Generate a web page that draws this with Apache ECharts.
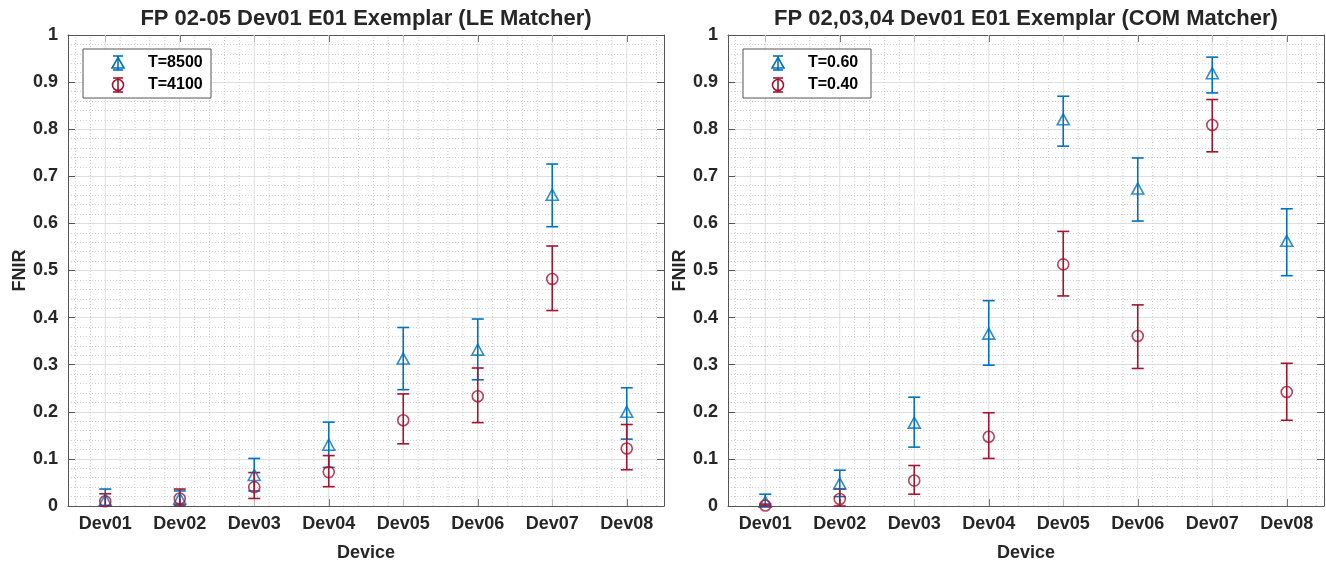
<!DOCTYPE html>
<html>
<head>
<meta charset="utf-8">
<script src="https://cdn.jsdelivr.net/npm/echarts@6/dist/echarts.min.js"></script>
<style>
  html, body { margin: 0; padding: 0; background: #ffffff; }
  #chart { width: 1326px; height: 563px; }
</style>
</head>
<body>
<div id="chart"></div>
<script>
// ---- data ----------------------------------------------------------------
const devices = ['Dev01', 'Dev02', 'Dev03', 'Dev04', 'Dev05', 'Dev06', 'Dev07', 'Dev08'];
const yTicks = [0, 0.1, 0.2, 0.3, 0.4, 0.5, 0.6, 0.7, 0.8, 0.9, 1];

// LE matcher, FP 02-05
const leT8500    = [0.013, 0.016, 0.066, 0.130, 0.313, 0.332, 0.661, 0.200];
const leT8500Lo  = [0.000, 0.003, 0.032, 0.082, 0.247, 0.268, 0.593, 0.142];
const leT8500Hi  = [0.036, 0.032, 0.101, 0.178, 0.379, 0.397, 0.726, 0.251];
const leT4100    = [0.010, 0.016, 0.040, 0.072, 0.182, 0.233, 0.482, 0.122];
const leT4100Lo  = [0.000, 0.000, 0.016, 0.041, 0.132, 0.177, 0.415, 0.077];
const leT4100Hi  = [0.026, 0.036, 0.071, 0.107, 0.238, 0.293, 0.552, 0.173];

// COM matcher, FP 02,03,04
const comT060    = [0.009, 0.048, 0.177, 0.366, 0.821, 0.674, 0.919, 0.563];
const comT060Lo  = [0.000, 0.020, 0.125, 0.299, 0.764, 0.605, 0.877, 0.489];
const comT060Hi  = [0.025, 0.076, 0.231, 0.436, 0.870, 0.739, 0.953, 0.631];
const comT040    = [0.001, 0.015, 0.054, 0.147, 0.513, 0.361, 0.809, 0.242];
const comT040Lo  = [0.000, 0.000, 0.025, 0.101, 0.446, 0.292, 0.752, 0.182];
const comT040Hi  = [0.004, 0.036, 0.086, 0.198, 0.583, 0.427, 0.863, 0.303];

// ---- styling ---------------------------------------------------------------
const FONT = '"Liberation Sans", Arial, Helvetica, sans-serif';
const BLUE = '#0072BD';
const RED = '#A2142F';
const AXIS = '#555555';
const TEXT = '#262626';
const GRID_MAJOR = '#dedede';
const GRID_MINOR = '#cfcfcf';
const LW = 1.6;

const xs = devices.map((_, i) => i + 1);

// vertical grid positions: devices (major) and fifths between them (minor)
const xGrid = [];
for (let k = 3; k <= 42; k++) {
  const v = +(k * 0.2).toFixed(2);
  xGrid.push([v, k % 5 === 0 ? 1 : 0]);
}

const panels = [
  { left: 68, title: 'FP 02-05 Dev01 E01 Exemplar (LE Matcher)',
    series: [
      { name: 'T=8500', color: BLUE, symbol: 'triangle', v: leT8500, lo: leT8500Lo, hi: leT8500Hi },
      { name: 'T=4100', color: RED, symbol: 'circle', v: leT4100, lo: leT4100Lo, hi: leT4100Hi }
    ] },
  { left: 728, title: 'FP 02,03,04 Dev01 E01 Exemplar (COM Matcher)',
    series: [
      { name: 'T=0.60', color: BLUE, symbol: 'triangle', v: comT060, lo: comT060Lo, hi: comT060Hi },
      { name: 'T=0.40', color: RED, symbol: 'circle', v: comT040, lo: comT040Lo, hi: comT040Hi }
    ] }
];

const PW = 596, TOP = 35, PH = 471;

const grid = [], xAxis = [], yAxis = [], series = [], graphic = [];

panels.forEach((p, g) => {
  grid.push({ left: p.left, top: TOP, width: PW, height: PH,
    containLabel: false, outerBoundsMode: 'none' });

  const tickStyle = { show: true, inside: true, length: 7, lineStyle: { color: AXIS, width: 1 } };
  const lineStyle = { show: true, onZero: false, lineStyle: { color: AXIS, width: 1 } };

  // bottom axis: device labels
  xAxis.push({
    type: 'value', gridIndex: g, position: 'bottom', min: 0.5, max: 8.5,
    axisLine: lineStyle,
    axisTick: Object.assign({}, tickStyle, { customValues: xs }),
    axisLabel: { customValues: xs, formatter: v => devices[Math.round(v) - 1] || '',
      color: TEXT, fontFamily: FONT, fontWeight: 'bold', fontSize: 18, margin: 9 },
    splitLine: { show: false },
    name: 'Device', nameLocation: 'middle', nameGap: 38,
    nameTextStyle: { color: TEXT, fontFamily: FONT, fontWeight: 'bold', fontSize: 18 }
  });
  // top axis: frame + ticks, carries the panel title
  xAxis.push({
    type: 'value', gridIndex: g, position: 'top', min: 0.5, max: 8.5,
    axisLine: lineStyle,
    axisTick: Object.assign({}, tickStyle, { customValues: xs }),
    axisLabel: { show: false },
    splitLine: { show: false },
    name: p.title, nameLocation: 'middle', nameGap: 5,
    nameTextStyle: { color: TEXT, fontFamily: FONT, fontWeight: 'bold', fontSize: 22 }
  });

  yAxis.push({
    type: 'value', gridIndex: g, position: 'left', min: yTicks[0], max: yTicks[yTicks.length - 1], interval: 0.1,
    axisLine: lineStyle,
    axisTick: tickStyle,
    axisLabel: { color: TEXT, fontFamily: FONT, fontWeight: 'bold', fontSize: 18, margin: 10,
      formatter: v => String(+v.toFixed(2)) },
    splitLine: { show: true, lineStyle: { color: GRID_MAJOR, width: 1 } },
    minorTick: { show: false, splitNumber: 5 },
    minorSplitLine: { show: true, lineStyle: { color: GRID_MINOR, width: 1, type: [1, 2] } },
    name: 'FNIR', nameLocation: 'middle', nameGap: 33, nameRotate: 90,
    nameTextStyle: { color: TEXT, fontFamily: FONT, fontWeight: 'bold', fontSize: 18 }
  });
  yAxis.push({
    type: 'value', gridIndex: g, position: 'right', min: 0, max: 1, interval: 0.1,
    axisLine: lineStyle,
    axisTick: tickStyle,
    axisLabel: { show: false },
    splitLine: { show: false }
  });

  const xi = g * 2, yi = g * 2;

  // vertical grid lines
  series.push({
    type: 'custom', xAxisIndex: xi, yAxisIndex: yi, silent: true, z: 1,
    data: xGrid,
    renderItem(params, api) {
      const x = api.value(0);
      const a = api.coord([x, 0]);
      const b = api.coord([x, 1]);
      const major = api.value(1) === 1;
      return {
        type: 'line',
        shape: { x1: a[0], y1: a[1], x2: b[0], y2: b[1] },
        style: major ? { stroke: GRID_MAJOR, lineWidth: 1 }
                     : { stroke: GRID_MINOR, lineWidth: 1, lineDash: [1, 2] }
      };
    }
  });

  p.series.forEach(s => {
    // error bars
    series.push({
      type: 'custom', name: s.name, xAxisIndex: xi, yAxisIndex: yi, z: 3,
      data: xs.map((x, i) => [x, s.lo[i], s.hi[i]]),
      encode: { x: 0, y: [1, 2] },
      renderItem(params, api) {
        const x = api.value(0);
        const top = api.coord([x, api.value(2)]);
        const bot = api.coord([x, api.value(1)]);
        const w = 6;
        const st = { stroke: s.color, lineWidth: LW, fill: null };
        return {
          type: 'group',
          children: [
            { type: 'line', shape: { x1: top[0], y1: top[1], x2: bot[0], y2: bot[1] }, style: st },
            { type: 'line', shape: { x1: top[0] - w, y1: top[1], x2: top[0] + w, y2: top[1] }, style: st },
            { type: 'line', shape: { x1: bot[0] - w, y1: bot[1], x2: bot[0] + w, y2: bot[1] }, style: st }
          ]
        };
      }
    });
    // markers
    series.push({
      type: 'scatter', name: s.name, xAxisIndex: xi, yAxisIndex: yi, z: 4,
      symbol: s.symbol, symbolSize: s.symbol === 'triangle' ? [12, 11] : 11,
      itemStyle: { color: 'rgba(255,255,255,0)', borderColor: s.color, borderWidth: LW },
      data: xs.map((x, i) => [x, s.v[i]])
    });
  });

  // legend box
  const lx = p.left + 15, ly = 49;
  graphic.push({ type: 'rect', x: lx, y: ly, z: 100, shape: { x: 0, y: 0, width: 128, height: 49 },
    style: { fill: '#ffffff', stroke: AXIS, lineWidth: 1 } });
  p.series.forEach((s, k) => {
    const cy = ly + 14 + k * 22, cx = lx + 35;
    const st = { stroke: s.color, lineWidth: LW, fill: null };
    graphic.push({ type: 'line', z: 101, shape: { x1: cx, y1: cy - 7, x2: cx, y2: cy + 7 }, style: st });
    graphic.push({ type: 'line', z: 101, shape: { x1: cx - 5, y1: cy - 7, x2: cx + 5, y2: cy - 7 }, style: st });
    graphic.push({ type: 'line', z: 101, shape: { x1: cx - 5, y1: cy + 7, x2: cx + 5, y2: cy + 7 }, style: st });
    if (s.symbol === 'triangle') {
      graphic.push({ type: 'polygon', z: 101,
        shape: { points: [[cx, cy - 5.5], [cx + 6, cy + 5], [cx - 6, cy + 5]] },
        style: { stroke: s.color, lineWidth: LW, fill: 'rgba(255,255,255,0)' } });
    } else {
      graphic.push({ type: 'circle', z: 101, shape: { cx: cx, cy: cy, r: 5.5 },
        style: { stroke: s.color, lineWidth: LW, fill: 'rgba(255,255,255,0)' } });
    }
    graphic.push({ type: 'text', z: 102, x: lx + 65, y: cy - 8.5,
      style: { text: s.name, fill: '#000000', fontFamily: FONT, fontWeight: 'bold', fontSize: 16,
        align: 'left', verticalAlign: 'top' } });
  });
});

const chart = echarts.init(document.getElementById('chart'), null, { renderer: 'canvas' });
chart.setOption({
  animation: false,
  backgroundColor: '#ffffff',
  grid, xAxis, yAxis, series, graphic
});
</script>
</body>
</html>
